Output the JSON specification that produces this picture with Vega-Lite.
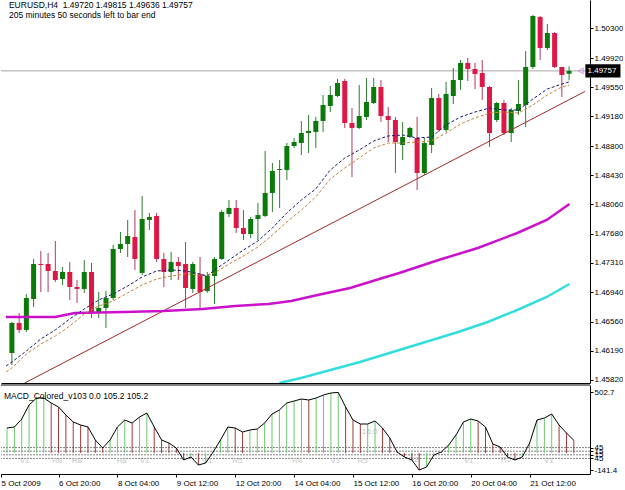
{
 "$schema": "https://vega.github.io/schema/vega-lite/v6.json",
 "padding": 0,
 "background": "white",
 "bounds": "flush",
 "spacing": 2,
 "config": {"view": {"stroke": null}, "font": "Liberation Sans",
   "axis": {"grid": false, "title": null, "domainColor": "#000", "tickColor": "#000", "labelColor": "#000", "labelFont": "Liberation Sans", "labelFontSize": 8, "labelOverlap": false}},
 "datasets": {
  "candles": [
{"i":0,"o":1.46163,"h":1.46558,"l":1.46011,"c":1.46546},
{"i":1,"o":1.46546,"h":1.46673,"l":1.46418,"c":1.46457},
{"i":2,"o":1.46457,"h":1.46915,"l":1.46431,"c":1.46864},
{"i":3,"o":1.46851,"h":1.47361,"l":1.46749,"c":1.47297},
{"i":4,"o":1.47297,"h":1.47463,"l":1.4694,"c":1.47284},
{"i":5,"o":1.47297,"h":1.47437,"l":1.4694,"c":1.47208},
{"i":6,"o":1.47208,"h":1.4759,"l":1.47068,"c":1.47093},
{"i":7,"o":1.47106,"h":1.47259,"l":1.4703,"c":1.47195},
{"i":8,"o":1.47195,"h":1.47323,"l":1.46839,"c":1.47004},
{"i":9,"o":1.47004,"h":1.47093,"l":1.468,"c":1.46979},
{"i":10,"o":1.46979,"h":1.47348,"l":1.46928,"c":1.47195},
{"i":11,"o":1.47195,"h":1.4731,"l":1.46609,"c":1.46673},
{"i":12,"o":1.46673,"h":1.4694,"l":1.46609,"c":1.46737},
{"i":13,"o":1.46737,"h":1.46953,"l":1.46482,"c":1.46864},
{"i":14,"o":1.46864,"h":1.47539,"l":1.46839,"c":1.47488},
{"i":15,"o":1.47488,"h":1.47705,"l":1.47437,"c":1.47552},
{"i":16,"o":1.47552,"h":1.47858,"l":1.47386,"c":1.47654},
{"i":17,"o":1.47641,"h":1.47985,"l":1.47221,"c":1.47361},
{"i":18,"o":1.47183,"h":1.48163,"l":1.47157,"c":1.4787},
{"i":19,"o":1.47858,"h":1.47947,"l":1.4773,"c":1.47896},
{"i":20,"o":1.47909,"h":1.47947,"l":1.47323,"c":1.47361},
{"i":21,"o":1.47361,"h":1.47437,"l":1.47004,"c":1.47195},
{"i":22,"o":1.47195,"h":1.4745,"l":1.47093,"c":1.47323},
{"i":23,"o":1.47323,"h":1.47386,"l":1.47093,"c":1.47272},
{"i":24,"o":1.47297,"h":1.47577,"l":1.46737,"c":1.46991},
{"i":25,"o":1.46979,"h":1.47323,"l":1.46928,"c":1.47297},
{"i":26,"o":1.4717,"h":1.47386,"l":1.46711,"c":1.4694},
{"i":27,"o":1.46953,"h":1.47195,"l":1.46928,"c":1.47144},
{"i":28,"o":1.47144,"h":1.47386,"l":1.46788,"c":1.47361},
{"i":29,"o":1.47361,"h":1.47985,"l":1.47348,"c":1.4796},
{"i":30,"o":1.47934,"h":1.48112,"l":1.47896,"c":1.48011},
{"i":31,"o":1.48011,"h":1.48112,"l":1.47692,"c":1.47756},
{"i":32,"o":1.47756,"h":1.47985,"l":1.47603,"c":1.47679},
{"i":33,"o":1.47679,"h":1.47896,"l":1.47628,"c":1.4787},
{"i":34,"o":1.4787,"h":1.48074,"l":1.47603,"c":1.47921},
{"i":35,"o":1.47909,"h":1.48737,"l":1.47896,"c":1.48202},
{"i":36,"o":1.48202,"h":1.48584,"l":1.4796,"c":1.48482},
{"i":37,"o":1.48495,"h":1.48622,"l":1.48011,"c":1.48507},
{"i":38,"o":1.48495,"h":1.48838,"l":1.48367,"c":1.488},
{"i":39,"o":1.488,"h":1.48902,"l":1.48775,"c":1.48851},
{"i":40,"o":1.48838,"h":1.49119,"l":1.48686,"c":1.48966},
{"i":41,"o":1.48966,"h":1.49195,"l":1.48711,"c":1.48991},
{"i":42,"o":1.48979,"h":1.4917,"l":1.48775,"c":1.49119},
{"i":43,"o":1.49119,"h":1.4945,"l":1.48979,"c":1.49323},
{"i":44,"o":1.4931,"h":1.49565,"l":1.49233,"c":1.4945},
{"i":45,"o":1.49437,"h":1.49654,"l":1.49424,"c":1.49603},
{"i":46,"o":1.49628,"h":1.49654,"l":1.4903,"c":1.49093},
{"i":47,"o":1.49093,"h":1.49284,"l":1.48405,"c":1.4903},
{"i":48,"o":1.4903,"h":1.49577,"l":1.49018,"c":1.49182},
{"i":49,"o":1.4917,"h":1.49666,"l":1.49131,"c":1.49361},
{"i":50,"o":1.49348,"h":1.49666,"l":1.49335,"c":1.49552},
{"i":51,"o":1.49552,"h":1.49641,"l":1.49106,"c":1.49182},
{"i":52,"o":1.49182,"h":1.49297,"l":1.48851,"c":1.49131},
{"i":53,"o":1.49131,"h":1.4917,"l":1.48456,"c":1.48851},
{"i":54,"o":1.48813,"h":1.49106,"l":1.48622,"c":1.48915},
{"i":55,"o":1.48915,"h":1.49042,"l":1.48902,"c":1.4903},
{"i":56,"o":1.48902,"h":1.4917,"l":1.4824,"c":1.48456},
{"i":57,"o":1.48456,"h":1.48902,"l":1.48431,"c":1.48838},
{"i":58,"o":1.48813,"h":1.49539,"l":1.48711,"c":1.49412},
{"i":59,"o":1.49412,"h":1.49463,"l":1.48979,"c":1.49004},
{"i":60,"o":1.49004,"h":1.49616,"l":1.48979,"c":1.49463},
{"i":61,"o":1.49437,"h":1.49794,"l":1.49335,"c":1.49641},
{"i":62,"o":1.49641,"h":1.49896,"l":1.49514,"c":1.49858},
{"i":63,"o":1.49858,"h":1.49921,"l":1.49628,"c":1.49781},
{"i":64,"o":1.49781,"h":1.49858,"l":1.49526,"c":1.49717},
{"i":65,"o":1.4973,"h":1.49896,"l":1.49386,"c":1.49552},
{"i":66,"o":1.49552,"h":1.49565,"l":1.48788,"c":1.48966},
{"i":67,"o":1.49131,"h":1.49361,"l":1.49106,"c":1.49348},
{"i":68,"o":1.49348,"h":1.49386,"l":1.4894,"c":1.48966},
{"i":69,"o":1.48966,"h":1.49284,"l":1.48851,"c":1.49259},
{"i":70,"o":1.49246,"h":1.49641,"l":1.49195,"c":1.49335},
{"i":71,"o":1.49323,"h":1.5001,"l":1.49042,"c":1.49807},
{"i":72,"o":1.49807,"h":1.50469,"l":1.49781,"c":1.50456},
{"i":73,"o":1.50443,"h":1.50456,"l":1.49896,"c":1.50049},
{"i":74,"o":1.50049,"h":1.50354,"l":1.50023,"c":1.5024},
{"i":75,"o":1.5024,"h":1.50252,"l":1.49794,"c":1.49807},
{"i":76,"o":1.49807,"h":1.49807,"l":1.49424,"c":1.49705},
{"i":77,"o":1.4972,"h":1.49815,"l":1.49636,"c":1.49757}
  ],
  "fast": [
{"i":-0.8,"v":1.45998},{"i":0,"v":1.46049},{"i":2,"v":1.46189},{"i":4,"v":1.46342},{"i":6,"v":1.46457},{"i":8,"v":1.46597},{"i":10,"v":1.46724},{"i":12,"v":1.46839},{"i":14,"v":1.46915},{"i":16,"v":1.47017},{"i":18,"v":1.47132},{"i":20,"v":1.47208},{"i":22,"v":1.47221},{"i":24,"v":1.47208},{"i":26,"v":1.4717},{"i":27,"v":1.47144},{"i":28,"v":1.47221},{"i":30,"v":1.47348},{"i":32,"v":1.47475},{"i":34,"v":1.4759},{"i":36,"v":1.47756},{"i":38,"v":1.47947},{"i":40,"v":1.48112},{"i":42,"v":1.48253},{"i":44,"v":1.48495},{"i":46,"v":1.48647},{"i":48,"v":1.48749},{"i":50,"v":1.48864},{"i":52,"v":1.48928},{"i":54,"v":1.4894},{"i":56,"v":1.48902},{"i":58,"v":1.48915},{"i":60,"v":1.49068},{"i":62,"v":1.4917},{"i":64,"v":1.49233},{"i":66,"v":1.49284},{"i":68,"v":1.49259},{"i":70,"v":1.49259},{"i":72,"v":1.49399},{"i":74,"v":1.49526},{"i":76,"v":1.4959},{"i":77,"v":1.49616}
  ],
  "slow": [
{"i":-0.8,"v":1.45922},{"i":0,"v":1.45972},{"i":2,"v":1.46151},{"i":4,"v":1.46278},{"i":6,"v":1.4638},{"i":8,"v":1.46507},{"i":10,"v":1.4666},{"i":12,"v":1.46762},{"i":14,"v":1.46826},{"i":16,"v":1.46928},{"i":18,"v":1.4703},{"i":20,"v":1.47106},{"i":22,"v":1.47144},{"i":24,"v":1.4717},{"i":26,"v":1.47157},{"i":27,"v":1.47144},{"i":28,"v":1.47183},{"i":30,"v":1.47297},{"i":32,"v":1.47399},{"i":34,"v":1.47514},{"i":36,"v":1.47667},{"i":38,"v":1.47832},{"i":40,"v":1.47985},{"i":42,"v":1.48151},{"i":44,"v":1.4838},{"i":46,"v":1.4852},{"i":48,"v":1.48647},{"i":50,"v":1.48775},{"i":52,"v":1.48838},{"i":54,"v":1.48838},{"i":56,"v":1.48851},{"i":58,"v":1.48864},{"i":60,"v":1.48966},{"i":62,"v":1.49081},{"i":64,"v":1.49157},{"i":66,"v":1.49221},{"i":68,"v":1.49233},{"i":70,"v":1.49221},{"i":72,"v":1.49323},{"i":74,"v":1.4945},{"i":76,"v":1.49552},{"i":77,"v":1.49577}
  ],
  "magenta": [
{"i":-0.82,"v":1.46622},{"i":5.98,"v":1.46622},{"i":8.7,"v":1.46673},{"i":15.49,"v":1.46686},{"i":20.92,"v":1.46699},{"i":26.36,"v":1.46724},{"i":30.84,"v":1.46762},{"i":35.46,"v":1.46788},{"i":38.59,"v":1.46826},{"i":42.26,"v":1.46902},{"i":46.74,"v":1.46991},{"i":51.22,"v":1.47119},{"i":53.53,"v":1.47183},{"i":58.97,"v":1.47348},{"i":64.4,"v":1.47501},{"i":69.84,"v":1.47692},{"i":73.91,"v":1.47858},{"i":77.04,"v":1.48061}
  ],
  "cyan": [
{"i":36.96,"v":1.45781},{"i":39.95,"v":1.45845},{"i":44.02,"v":1.45947},{"i":48.1,"v":1.46049},{"i":53.53,"v":1.46202},{"i":57.61,"v":1.46316},{"i":61.68,"v":1.46431},{"i":65.76,"v":1.46558},{"i":69.84,"v":1.46711},{"i":73.91,"v":1.46877},{"i":77.04,"v":1.47042}
  ],
  "trend": [{"i":1.77,"v":1.45781},{"i":79.2,"v":1.49495}],
  "macd": [
{"i":0,"m":207.5},{"i":1,"m":215.8},{"i":2,"m":282.2},{"i":3,"m":398.4},{"i":4,"m":456},{"i":5,"m":457},{"i":6,"m":415},{"i":7,"m":381.8},{"i":8,"m":315.4},{"i":9,"m":257.3},{"i":10,"m":232.4},{"i":11,"m":215.8},{"i":12,"m":107.9},{"i":13,"m":41.5},{"i":14,"m":107.9},{"i":15,"m":215.8},{"i":16,"m":273.9},{"i":17,"m":249},{"i":18,"m":298.8},{"i":19,"m":332},{"i":20,"m":215.8},{"i":21,"m":107.9},{"i":22,"m":83},{"i":23,"m":41.5},{"i":24,"m":-58.1},{"i":25,"m":-33.2},{"i":26,"m":-99.6},{"i":27,"m":-83},{"i":28,"m":8.3},{"i":29,"m":107.9},{"i":30,"m":215.8},{"i":31,"m":207.5},{"i":32,"m":174.3},{"i":33,"m":190.9},{"i":34,"m":199.2},{"i":35,"m":249},{"i":36,"m":323.7},{"i":37,"m":356.9},{"i":38,"m":415},{"i":39,"m":431.6},{"i":40,"m":448.2},{"i":41,"m":439.9},{"i":42,"m":456.5},{"i":43,"m":481.4},{"i":44,"m":498},{"i":45,"m":502.7},{"i":46,"m":381.8},{"i":47,"m":273.9},{"i":48,"m":240.7},{"i":49,"m":240.7},{"i":50,"m":265.6},{"i":51,"m":207.5},{"i":52,"m":124.5},{"i":53,"m":8.3},{"i":54,"m":-33.2},{"i":55,"m":-58.1},{"i":56,"m":-141.4},{"i":57,"m":-116.2},{"i":58,"m":-16.6},{"i":59,"m":8.3},{"i":60,"m":66.4},{"i":61,"m":149.4},{"i":62,"m":257.3},{"i":63,"m":282.2},{"i":64,"m":265.6},{"i":65,"m":215.8},{"i":66,"m":74.7},{"i":67,"m":49.8},{"i":68,"m":-33.2},{"i":69,"m":-58.1},{"i":70,"m":-33.2},{"i":71,"m":83},{"i":72,"m":273.9},{"i":73,"m":290.5},{"i":74,"m":323.7},{"i":75,"m":232.4},{"i":76,"m":166},{"i":77,"m":105.2}
  ],
  "levels": [{"lv":45},{"lv":15},{"lv":-15},{"lv":-45}],
  "faint": [
{"i":2.4,"m":-70,"t":"V1"},{"i":6.8,"m":-70,"t":"R8"},{"i":9.5,"m":-70,"t":"R8"},{"i":15.6,"m":-70,"t":"R8"},{"i":18.7,"m":-70,"t":"V1"},
{"i":27.2,"m":-70,"t":"V1"},{"i":31.3,"m":-66,"t":"R5"},{"i":39.4,"m":-66,"t":"R4"},{"i":44.6,"m":-66,"t":"V1"},{"i":48.3,"m":-66,"t":"R5"},
{"i":55.3,"m":-58,"t":"R8"},{"i":62.7,"m":-66,"t":"V1"},{"i":67.8,"m":-58,"t":"R5"},{"i":73.6,"m":-66,"t":"V1"},{"i":49.1,"m":174,"t":"-16.0"}
  ]
 },
 "vconcat": [
  {
   "width": 589, "height": 383,
   "layer": [
    {"data": {"values": [{"p": 1.49757}]}, "mark": {"type": "rule", "color": "#a8a8a8", "strokeWidth": 1},
     "encoding": {"y": {"field": "p", "type": "quantitative", "scale": {"domain": [1.45781, 1.5066], "nice": false, "zero": false},
       "axis": {"orient": "right", "values": [1.503, 1.4992, 1.4955, 1.4918, 1.488, 1.4843, 1.4806, 1.4768, 1.4731, 1.4694, 1.4656, 1.4619, 1.4582], "tickCount": 30, "format": ".5f", "tickSize": 3, "labelPadding": 1, "labelOverlap": false, "labelBound": false}}}},
    {"data": {"name": "candles"}, "mark": {"type": "rule", "strokeWidth": 1},
     "encoding": {"x": {"field": "i", "type": "quantitative", "scale": {"domain": [-0.815, 79.2], "nice": false, "zero": false},
        "axis": {"labels": false, "ticks": false, "domain": true}},
      "y": {"field": "l", "type": "quantitative"}, "y2": {"field": "h"},
      "color": {"condition": {"test": "datum.c >= datum.o", "value": "#2f7d2f"}, "value": "#b03a58"}}},
    {"data": {"name": "candles"}, "mark": {"type": "bar", "size": 5, "minBandSize": 1},
     "encoding": {"x": {"field": "i", "type": "quantitative"},
      "y": {"field": "o", "type": "quantitative"}, "y2": {"field": "c"},
      "color": {"condition": {"test": "datum.c >= datum.o", "value": "#0b7a0b"}, "value": "#dc1848"}}},
    {"data": {"name": "trend"}, "mark": {"type": "line", "color": "#a02828", "strokeWidth": 1, "clip": true},
     "encoding": {"x": {"field": "i", "type": "quantitative"}, "y": {"field": "v", "type": "quantitative"}}},
    {"data": {"name": "magenta"}, "mark": {"type": "line", "color": "#cc11cc", "strokeWidth": 2.5, "clip": true},
     "encoding": {"x": {"field": "i", "type": "quantitative"}, "y": {"field": "v", "type": "quantitative"}}},
    {"data": {"name": "cyan"}, "mark": {"type": "line", "color": "#33dddd", "strokeWidth": 2.5, "clip": true},
     "encoding": {"x": {"field": "i", "type": "quantitative"}, "y": {"field": "v", "type": "quantitative"}}},
    {"data": {"name": "slow"}, "mark": {"type": "line", "color": "#c8813a", "strokeWidth": 1, "strokeDash": [3, 2], "clip": true},
     "encoding": {"x": {"field": "i", "type": "quantitative"}, "y": {"field": "v", "type": "quantitative"}}},
    {"data": {"name": "fast"}, "mark": {"type": "line", "color": "#1c1c70", "strokeWidth": 1, "strokeDash": [3, 2], "clip": true},
     "encoding": {"x": {"field": "i", "type": "quantitative"}, "y": {"field": "v", "type": "quantitative"}}},
    {"data": {"values": [{"t": "EURUSD,H4\u00a0\u00a01.49720 1.49815 1.49636 1.49757", "x": -0.41, "y": 1.50596}, {"t": "205 minutes 50 seconds left to bar end", "x": -0.41, "y": 1.50469}]},
     "mark": {"type": "text", "align": "left", "baseline": "middle", "fontSize": 8.5, "color": "#000"},
     "encoding": {"x": {"field": "x", "type": "quantitative"}, "y": {"field": "y", "type": "quantitative"}, "text": {"field": "t"}}},
    {"data": {"values": [{"x": 79.25, "x2": 84.1, "y": 1.4984, "y2": 1.49674}]}, "mark": {"type": "rect", "color": "#000"},
     "encoding": {"x": {"field": "x", "type": "quantitative"}, "x2": {"field": "x2"}, "y": {"field": "y", "type": "quantitative"}, "y2": {"field": "y2"}}},
    {"data": {"values": [{"x": 79.55, "p": 1.49757, "t": "1.49757"}]}, "mark": {"type": "text", "align": "left", "baseline": "middle", "fontSize": 8, "color": "#fff"},
     "encoding": {"x": {"field": "x", "type": "quantitative"}, "y": {"field": "p", "type": "quantitative"}, "text": {"field": "t"}}},
    {"data": {"values": [{"x": 78.6, "p": 1.49757}]}, "mark": {"type": "point", "shape": "triangle-left", "size": 35, "filled": false, "color": "#dd66dd", "strokeWidth": 1},
     "encoding": {"x": {"field": "x", "type": "quantitative"}, "y": {"field": "p", "type": "quantitative"}}}
   ]
  },
  {
   "width": 589, "height": 89,
   "layer": [
    {"data": {"name": "levels"}, "mark": {"type": "rule", "color": "#808080", "strokeDash": [2, 1], "strokeWidth": 1},
     "encoding": {"y": {"field": "lv", "type": "quantitative", "scale": {"domain": [-174.3, 564.4], "nice": false, "zero": false},
       "axis": {"orient": "right", "values": [502.7, 45, 15, -15, -45, -141.4], "tickCount": 30, "labelExpr": "datum.value < -100 ? '-141.4' : datum.value > 100 ? '502.7' : format(abs(datum.value), 'd')", "tickSize": 3, "labelPadding": 1, "labelOverlap": false}}}},
    {"data": {"values": [{"t": 564.4}]}, "mark": {"type": "rule", "color": "#000", "strokeWidth": 1},
     "encoding": {"y": {"field": "t", "type": "quantitative"}}},
    {"data": {"name": "faint"}, "mark": {"type": "text", "align": "center", "baseline": "middle", "fontSize": 8, "color": "#c4c4c4"},
     "encoding": {"x": {"field": "i", "type": "quantitative"}, "y": {"field": "m", "type": "quantitative"}, "text": {"field": "t"}}},
    {"data": {"name": "macd"},
     "transform": [{"window": [{"op": "lag", "field": "m", "as": "pm"}], "sort": [{"field": "i", "order": "ascending"}]}],
     "mark": {"type": "rule", "strokeWidth": 1},
     "encoding": {"x": {"field": "i", "type": "quantitative", "scale": {"domain": [-0.815, 79.2], "nice": false, "zero": false},
        "axis": {"values": [-0.8, 7, 15, 23, 31, 39, 47, 55, 63, 71], "tickCount": 30, "labelAlign": "left", "labelBaseline": "top", "tickSize": 3, "labelPadding": 2, "labelFlush": false, "labelOverlap": false,
         "labelExpr": "datum.value < 0 ? '5 Oct 2009' : datum.value == 7 ? '6 Oct 20:00' : datum.value == 15 ? '8 Oct 04:00' : datum.value == 23 ? '9 Oct 12:00' : datum.value == 31 ? '12 Oct 20:00' : datum.value == 39 ? '14 Oct 04:00' : datum.value == 47 ? '15 Oct 12:00' : datum.value == 55 ? '16 Oct 20:00' : datum.value == 63 ? '20 Oct 04:00' : '21 Oct 12:00'"}},
      "y": {"field": "m", "type": "quantitative"}, "y2": {"datum": 0},
      "color": {"condition": {"test": "datum.pm == null || datum.m >= datum.pm", "value": "#6cc86c"}, "value": "#a03838"}}},
    {"data": {"name": "macd"}, "mark": {"type": "line", "color": "#000", "strokeWidth": 1},
     "encoding": {"x": {"field": "i", "type": "quantitative"}, "y": {"field": "m", "type": "quantitative"}}},
    {"data": {"values": [{"t": "MACD_Colored_v103 0.0 105.2 105.2", "x": -0.41, "y": 470}]},
     "mark": {"type": "text", "align": "left", "baseline": "middle", "fontSize": 8.5, "color": "#000"},
     "encoding": {"x": {"field": "x", "type": "quantitative"}, "y": {"field": "y", "type": "quantitative"}, "text": {"field": "t"}}}
   ]
  }
 ]
}
